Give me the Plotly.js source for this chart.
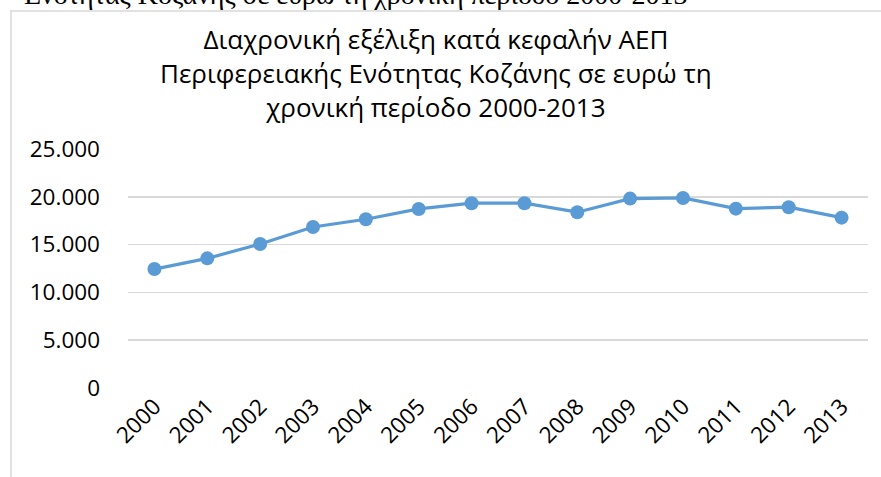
<!DOCTYPE html>
<html>
<head>
<meta charset="utf-8">
<script src="https://cdn.plot.ly/plotly-3.0.1.min.js"></script>
<style>
html,body{margin:0;padding:0;background:#fff;}
#chart{width:881px;height:477px;}
</style>
</head>
<body>
<div id="chart"></div>
<script>
var years = ["2000","2001","2002","2003","2004","2005","2006","2007","2008","2009","2010","2011","2012","2013"];
var gdpPerCapita = [12440, 13560, 15060, 16840, 17650, 18730, 19330, 19330, 18390, 19810, 19880, 18760, 18910, 17820];
var yTicks = [0, 5000, 10000, 15000, 20000, 25000];
var titleLines = ["Διαχρονική εξέλιξη κατά κεφαλήν ΑΕΠ", "Περιφερειακής Ενότητας Κοζάνης σε ευρώ τη", "χρονική περίοδο 2000-2013"];
var topCaption = "Ενότητας Κοζάνης σε ευρώ τη χρονική περίοδο 2000-2013";

var FONT = "Open Sans, Noto Sans, sans-serif";

// plot area in pixels: left 128, right 868, top 149, bottom 388
var PL = 128, PW = 740, PT = 149, PH = 239;
function px2paperX(px) { return (px - PL) / PW; }
function px2paperY(py) { return 1 + (PT - py) / PH; }

var trace = {
  x: years,
  y: gdpPerCapita,
  type: "scatter",
  mode: "lines+markers",
  line: {color: "#5b9bd5", width: 3.2},
  marker: {color: "#5b9bd5", size: 14},
  hoverinfo: "x+y"
};

var layout = {
  width: 881,
  height: 477,
  paper_bgcolor: "#ffffff",
  plot_bgcolor: "#ffffff",
  margin: {l: PL, r: 881 - PL - PW, t: PT, b: 477 - PT - PH},
  separators: ",.",
  showlegend: false,
  xaxis: {
    type: "category",
    range: [-0.5, 13.5],
    tickangle: -45,
    tickfont: {family: FONT, size: 22.5, color: "#000000"},
    showgrid: false,
    zeroline: false,
    showline: false,
    ticks: "",
    fixedrange: true
  },
  yaxis: {
    range: [0, 25000],
    tickvals: yTicks,
    tickformat: ",.0f",
    tickfont: {family: FONT, size: 22.5, color: "#000000"},
    gridcolor: "#d9d9d9",
    gridwidth: 1.5,
    zeroline: false,
    showline: false,
    ticks: "",
    ticklabelstandoff: 27,
    fixedrange: true
  },
  shapes: [
    {type: "line", xref: "paper", yref: "paper", x0: px2paperX(11), x1: px2paperX(11), y0: px2paperY(10), y1: px2paperY(490),
     line: {color: "#d9d9d9", width: 1.5}},
    {type: "line", xref: "paper", yref: "paper", x0: px2paperX(11), x1: px2paperX(900), y0: px2paperY(11), y1: px2paperY(11),
     line: {color: "#d9d9d9", width: 1.5}}
  ],
  annotations: [
    {text: topCaption, xref: "paper", yref: "paper", x: px2paperX(22), xanchor: "left",
     y: px2paperY(12), yanchor: "bottom", showarrow: false,
     font: {family: "Liberation Serif, Times New Roman, serif", size: 28, color: "#000000"}},
    {text: titleLines.join("<br>"), xref: "paper", yref: "paper", x: px2paperX(436), xanchor: "center",
     y: px2paperY(73), yanchor: "middle", align: "center", showarrow: false,
     font: {family: FONT, size: 26, color: "#000000"}}
  ]
};

Plotly.newPlot("chart", [trace], layout, {displayModeBar: false, staticPlot: true});
</script>
</body>
</html>
